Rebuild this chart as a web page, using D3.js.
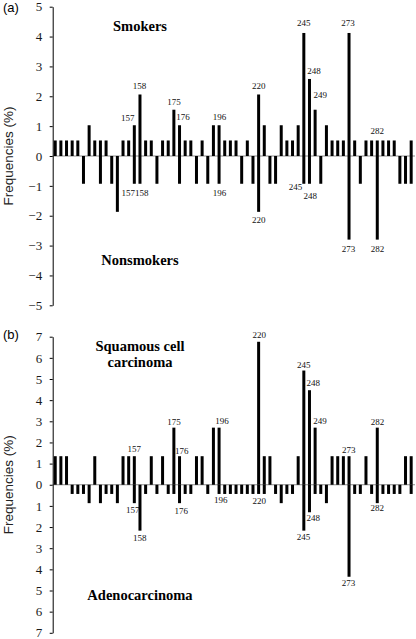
<!DOCTYPE html>
<html><head><meta charset="utf-8">
<script src="https://cdn.jsdelivr.net/npm/d3@7"></script>
<style>
html,body{margin:0;padding:0;background:#fff;}
svg{display:block;}
.tick text{font-family:'Liberation Serif','Times New Roman',serif !important;}
</style></head>
<body>
<svg id="chart" width="416" height="639"></svg>
<script>
// ---------- DATA ----------
// 64 mutated codon positions along the x axis (slot index)
const slots = [0,1,2,3,4,5,6,7,8,9,10,11,12,13,14,15,16,17,18,19,20,21,22,23,24,25,26,27,28,29,30,31,
               32,33,34,35,36,37,38,39,40,41,42,43,44,45,46,47,48,49,50,51,52,53,54,55,56,57,58,59,60,61,62,63];
// codon numbers printed on the chart, by slot
const codonLabels = {14:"157",15:"158",21:"175",22:"176",29:"196",36:"220",44:"245",45:"248",46:"249",52:"273",57:"282"};

// (a) Frequencies (%)
const smokers = [0.52,0.52,0.52,0.52,0.52,0,1.03,0.52,0.52,0.52,0,0,0.52,0.52,1.03,2.06,
                 0.52,0.52,0,0.52,0.52,1.55,1.03,0.52,0.52,0,0.52,0,1.03,1.03,0.52,0.52,
                 0.52,0,0.52,0,2.06,1.03,0,0,1.03,0.52,0.52,1.03,4.12,2.58,1.55,0,
                 1.03,0.52,0.52,0.52,4.12,0.52,0,0.52,0.52,0.52,0.52,0.52,0.52,0,0,0.52];
const nonsmokers = [0,0,0,0,0,0.93,0,0,0.93,0,0.93,1.87,0,0,0.93,0.93,
                    0,0,0.93,0,0,0,0.93,0,0,0.93,0,0.93,0,0.93,0,0,
                    0,0.93,0,0.93,1.87,0,0.93,0.93,0,0,0,0,0.93,0.93,0,0.93,
                    0,0,0,0,2.8,0,0.93,0,0,2.8,0,0,0,0.93,0.93,0.93];
// (b) Frequencies (%)
const squamous = [1.35,1.35,1.35,0,0,0,0,1.35,0,0,0,0,1.35,1.35,1.35,0,
                  0,1.35,0,1.35,0,2.7,1.35,0,0,1.35,1.35,0,2.7,2.7,0,0,
                  0,0,0,0,6.76,1.35,1.35,0,0,0,0,1.35,5.4,4.47,2.7,0,
                  0,1.35,1.35,1.35,1.35,0,0,1.35,0,2.7,0,0,0,0,1.35,1.35];
const adeno = [0,0,0,0.435,0.435,0.435,0.87,0,0.87,0.435,0.435,0.87,0,0,0.87,2.17,
               0.435,0,0.435,0,0.435,0.435,0.87,0.435,0.435,0,0,0.435,0,0.435,0.435,0.435,
               0.435,0.435,0.435,0.435,0.435,0.435,0,0.435,0.87,0.435,0.435,0,2.17,1.3,0.435,0.435,
               0.87,0,0,0,4.35,0.435,0.435,0,0.435,0.87,0.435,0.435,0.435,0.435,0,0.435];

const ticksA = [-5,-4,-3,-2,-1,0,1,2,3,4,5];
const ticksB = [-7,-6,-5,-4,-3,-2,-1,0,1,2,3,4,5,6,7];

// which slots carry a codon label, per series
const labSmokers    = [14,15,21,22,29,36,44,45,46,52,57];
const labNonsmokers = [14,15,29,36,44,45,52,57];
const labSquamous   = [14,21,22,29,36,44,45,46,52,57];
const labAdeno      = [14,15,22,29,36,44,45,52,57];

// ---------- STYLE / LAYOUT ----------
const nudgeSmokers = {14:[-6.5,1],15:[-0.5,-0.5],21:[0,0],22:[3.5,0],29:[0.5,0],36:[0,0],44:[0,-2],45:[4.5,0],46:[5,-6.5],52:[-1,-2],57:[0,-1.5]};
const nudgeNonsmokers = {14:[-6,1.7],15:[1.7,1.7],29:[0.3,1.7],36:[0,1],44:[-8.3,-4.3],45:[0.7,5.2],52:[-0.5,1.4],57:[0.2,1.4]};
const nudgeSquamous = {14:[0,0.8],21:[0,2],22:[2.3,2.8],29:[2.8,1.4],36:[0.5,1.7],44:[0,2],45:[3.7,1],46:[4.8,1.4],52:[-0.3,2.3],57:[0.2,2.4]};
const nudgeAdeno = {14:[-1.6,-0.3],15:[-0.3,-0.3],22:[1.7,0.3],29:[1.6,-1.5],36:[0.6,0],44:[-0.3,-1.3],45:[3.7,-1.4],52:[-0.5,-0.9],57:[-0.1,-2.7]};

const svg = d3.select("#chart");
const serif = "'Liberation Serif','Times New Roman',serif";
const sans = "'Liberation Sans',Arial,sans-serif";
const axisX = 52.7, rightX = 415;

const x = d3.scaleBand().domain(slots).range([52.4, 414]).paddingInner(0.47).paddingOuter(0.235);

function panel(opts){
  const {yDomain, yRange, ticks, absTicks, upVals, downVals, upLab, downLab, upNudge, downNudge} = opts;
  const y = d3.scaleLinear().domain(yDomain).range(yRange);
  const g = svg.append("g");
  g.append("line").attr("x1", axisX).attr("x2", rightX)
    .attr("y1", y(0)).attr("y2", y(0)).attr("stroke", "#8a8a8a").attr("stroke-width", 1);
  const ax = d3.axisLeft(y).tickValues(ticks).tickSize(3).tickSizeOuter(0).tickPadding(7.5)
    .tickFormat(absTicks ? (d => String(Math.abs(d))) : d3.format("d"));
  const axg = g.append("g").attr("transform", `translate(${axisX},0)`).call(ax)
    .attr("font-family", serif).attr("font-size", 13);
  axg.select(".domain").attr("stroke", "#000").attr("stroke-width", 1);
  axg.selectAll(".tick line").attr("stroke", "#000");
  axg.selectAll(".tick text").style("font-family", serif).style("font-size", "13px").attr("fill", "#1a1a1a");
  g.selectAll(".up").data(slots.filter(i => upVals[i] > 0)).join("rect")
    .attr("x", i => x(i)).attr("width", x.bandwidth())
    .attr("y", i => y(upVals[i])).attr("height", i => y(0) - y(upVals[i]))
    .attr("fill", "#000");
  g.selectAll(".dn").data(slots.filter(i => downVals[i] > 0)).join("rect")
    .attr("x", i => x(i)).attr("width", x.bandwidth())
    .attr("y", y(0)).attr("height", i => y(-downVals[i]) - y(0))
    .attr("fill", "#000");
  const cx = i => x(i) + x.bandwidth()/2;
  g.selectAll(".ul").data(upLab).join("text")
    .attr("x", i => cx(i) + (upNudge[i]||[0,0])[0])
    .attr("y", i => y(upVals[i]) - 5 + (upNudge[i]||[0,0])[1])
    .attr("text-anchor", "middle").style("font-family", serif).style("font-size", "9px").attr("fill", "#111")
    .text(i => codonLabels[i]);
  g.selectAll(".dl").data(downLab).join("text")
    .attr("x", i => cx(i) + (downNudge[i]||[0,0])[0])
    .attr("y", i => y(-downVals[i]) + 10.5 + (downNudge[i]||[0,0])[1])
    .attr("text-anchor", "middle").style("font-family", serif).style("font-size", "9px").attr("fill", "#111")
    .text(i => codonLabels[i]);
  return y;
}

const yA = panel({yDomain:[-5,5], yRange:[305.3,6.7], ticks:ticksA, absTicks:false,
  upVals:smokers, downVals:nonsmokers, upLab:labSmokers, downLab:labNonsmokers,
  upNudge:nudgeSmokers, downNudge:nudgeNonsmokers});
const yB = panel({yDomain:[-7,7], yRange:[632.8,336.7], ticks:ticksB, absTicks:true,
  upVals:squamous, downVals:adeno, upLab:labSquamous, downLab:labAdeno,
  upNudge:nudgeSquamous, downNudge:nudgeAdeno});

svg.append("text").attr("x", 3).attr("y", 12).style("font-family", sans).style("font-size", "13px").text("(a)");
svg.append("text").attr("x", 3).attr("y", 339).style("font-family", sans).style("font-size", "13px").text("(b)");

[yA(0), yB(0)].forEach(cy => {
  svg.append("text").attr("transform", `translate(12.5,${cy}) rotate(-90)`)
    .attr("text-anchor", "middle").style("font-family", sans).style("font-size", "13.5px").attr("fill", "#222")
    .text("Frequencies (%)");
});

const titles = [["Smokers",31],["Nonsmokers",265],["Squamous cell",350.7],["carcinoma",367.3],["Adenocarcinoma",600]];
titles.forEach(([t, yy]) => {
  svg.append("text").attr("x", 140).attr("y", yy).attr("text-anchor", "middle")
    .style("font-family", serif).style("font-weight", "bold").style("font-size", "14.5px").attr("fill", "#000").text(t);
});
</script>
</body></html>
